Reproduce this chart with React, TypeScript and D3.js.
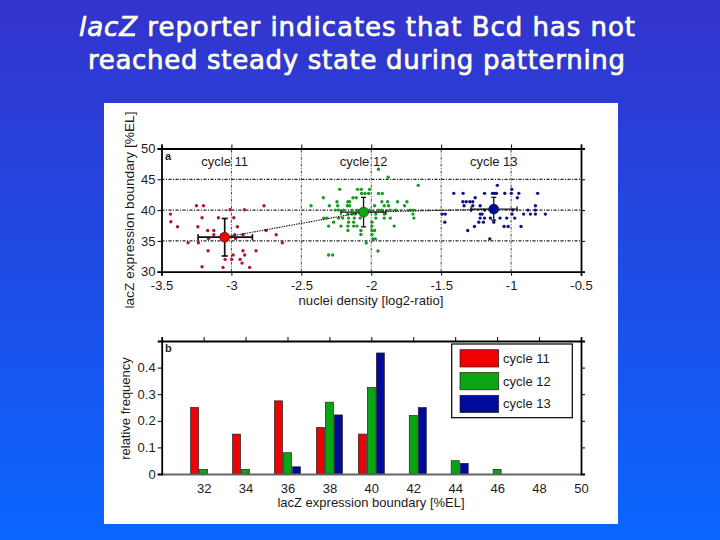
import React, { useEffect, useRef } from 'react';
import * as d3 from 'd3';

const titleLines = ['reporter indicates that Bcd has not', 'reached steady state during patterning'];
const seriesNames = ['cycle 11', 'cycle 12', 'cycle 13'];
const seriesColors = ['#f00000', '#0aa514', '#000a9c'];
const dotColors = ['#b5142e', '#159c22', '#10107f'];

const densityTicks = [-3.5, -3, -2.5, -2, -1.5, -1, -0.5];
const boundaryTicks = [30, 35, 40, 45, 50];
const binTicks = [32, 34, 36, 38, 40, 42, 44, 46, 48, 50];
const freqTicks = [0, 0.1, 0.2, 0.3, 0.4];
const bins = [32, 34, 36, 38, 40, 42, 44, 46];

const freq11 = [0.25, 0.15, 0.275, 0.175, 0.15, 0, 0, 0];
const freq12 = [0.0175, 0.0175, 0.08, 0.27, 0.325, 0.22, 0.05, 0.0175];
const freq13 = [0, 0, 0.027, 0.222, 0.455, 0.25, 0.04, 0];

const points11: [number, number][] = [
  [-3.436, 39.35], [-3.433, 38.1], [-3.386, 37.3], [-3.25, 40.7], [-3.2, 40.7], [-3.21, 38.75], [-3.24, 37.3],
  [-3.17, 36.7], [-3.126, 36.7], [-3.126, 36], [-3.164, 35.4], [-3.31, 34.7], [-3.236, 34.7], [-3.167, 33.4],
  [-3.21, 30.8], [-3.093, 38.75], [-3.01, 40.05], [-2.907, 40.05], [-2.767, 40.7], [-2.983, 38.75], [-2.957, 37.3],
  [-2.752, 36.7], [-2.68, 36], [-2.636, 34.7], [-2.917, 36], [-2.97, 35.4], [-3.07, 36], [-2.824, 33.4],
  [-2.917, 33.4], [-2.905, 32.7], [-2.988, 32.7], [-3.045, 32], [-2.998, 32], [-2.938, 32], [-2.924, 31.4],
  [-3.06, 30.7], [-2.87, 30.7], [-2.976, 36],
];

const points12: [number, number][] = [
  [-1.948, 46.63], [-1.879, 45.33], [-1.664, 44.02], [-2.226, 43.37], [-2.098, 43.37], [-2.071, 43.37], [-2.012, 43.37],
  [-2.069, 42.7], [-2.045, 42.7], [-2.019, 42.7], [-1.948, 42.7], [-1.921, 42.7], [-2.343, 42], [-2.131, 42], [-2.107, 42],
  [-2.167, 41.36], [-2.155, 41.36], [-2.245, 41.36], [-1.924, 41.36], [-1.883, 41.36], [-1.812, 41.36], [-1.745, 41.36],
  [-2.431, 40.7], [-2.3, 40.7], [-2.24, 40.7], [-2.171, 40.7], [-2.155, 40.7], [-1.976, 40.7], [-1.907, 40.7], [-1.876, 40.7], [-1.762, 40.7],
  [-2.257, 40], [-2.233, 40], [-2.198, 40], [-2.138, 40], [-2.102, 40], [-2.012, 40], [-1.948, 40], [-1.924, 40], [-1.864, 40], [-1.824, 40], [-1.721, 40], [-1.698, 40],
  [-2.167, 39.35], [-2.138, 39.35], [-2.114, 39.35], [-1.967, 39.35], [-1.907, 39.35], [-1.702, 39.35],
  [-2.34, 38.7], [-2.317, 38.7], [-2.233, 38.7], [-2.205, 38.7], [-2.162, 38.7], [-2.121, 38.7], [-2.079, 38.7], [-1.967, 38.7], [-1.907, 38.7], [-1.864, 38.7], [-1.695, 38.7],
  [-2.269, 38.04], [-2.162, 38.04], [-2.126, 38.04], [-1.995, 38.04],
  [-2.305, 37.4], [-2.217, 37.4], [-2.167, 37.4], [-2.126, 37.4], [-2.102, 37.4], [-1.995, 37.4], [-1.836, 37.4],
  [-2.167, 36.7], [-2.074, 36.7], [-1.995, 36.7], [-1.976, 36.7], [-2.074, 36.03], [-1.995, 36.03],
  [-1.988, 35.33], [-1.971, 35.33], [-2.036, 34.67], [-1.952, 33.37], [-2.305, 32.7], [-2.276, 32.7],
];

const points13: [number, number][] = [
  [-1.098, 44.02], [-0.995, 43.37],
  [-1.41, 42.72], [-1.343, 42.72], [-1.19, 42.72], [-1.133, 42.72], [-1.119, 42.72], [-1.105, 42.72], [-1.045, 42.72], [-0.998, 42.72], [-0.945, 42.72], [-0.81, 42.72],
  [-1.257, 42], [-0.955, 42], [-1.345, 41.36], [-1.321, 41.36], [-1.295, 41.36], [-1.274, 41.36],
  [-1.336, 40.7], [-1.274, 40.7], [-1.221, 40.7], [-0.826, 40.7],
  [-1.286, 40], [-1.19, 40], [-0.988, 40], [-0.879, 40], [-0.826, 40],
  [-1.493, 39.35], [-1.471, 39.35], [-1.221, 39.35], [-1.207, 39.35], [-0.993, 39.35], [-0.91, 39.35], [-0.862, 39.35], [-0.826, 39.35], [-0.755, 39.35],
  [-1.221, 38.7], [-1.19, 38.7], [-1.148, 38.7], [-1.079, 38.7], [-1.031, 38.7], [-0.974, 38.7],
  [-1.474, 38.04], [-1.231, 38.04], [-1.198, 38.04], [-1.124, 38.04],
  [-1.262, 37.34], [-1.05, 37.34], [-1.021, 37.34], [-0.929, 37.34], [-1.31, 36.68], [-1.152, 35.33],
];

// mean x, mean y, then the error bar ends
const meanX = [-3.048, -2.055, -1.124];
const meanY = [35.6, 39.67, 40.16];
const xLow = [-3.238, -2.217, -1.287];
const xHigh = [-2.85, -1.895, -0.957];
const yLow = [32.55, 37.28, 38.37];
const yHigh = [38.64, 42.07, 42.07];

const FONT = '"Liberation Sans", Arial, sans-serif';
const INK = '#1c1c1c';

const App: React.FC = () => {
  const ref = useRef<SVGSVGElement>(null);

  useEffect(() => {
    const svg = d3.select(ref.current);
    svg.selectAll('*').remove();

    const grad = svg.append('defs').append('linearGradient')
      .attr('id', 'bg').attr('x1', 0).attr('x2', 0).attr('y1', 0).attr('y2', 1);
    grad.append('stop').attr('offset', '0%').attr('stop-color', '#3333cc');
    grad.append('stop').attr('offset', '100%').attr('stop-color', '#0a66ff');

    svg.append('rect').attr('width', 720).attr('height', 540).attr('fill', 'url(#bg)');
    svg.append('rect').attr('x', 104).attr('y', 103).attr('width', 514).attr('height', 421).attr('fill', '#fff');

    // slide title
    const title = svg.append('g')
      .attr('fill', '#ffffe6').attr('stroke', '#ffffe6').attr('stroke-width', 0.7)
      .attr('font-family', '"DejaVu Sans", sans-serif').attr('font-size', 26);
    const t1 = title.append('text').attr('x', 79).attr('y', 36).attr('textLength', 556).attr('lengthAdjust', 'spacing');
    t1.append('tspan').attr('font-style', 'italic').text('lacZ');
    t1.append('tspan').text(' ' + titleLines[0]);
    title.append('text').attr('x', 88).attr('y', 69).attr('textLength', 537).attr('lengthAdjust', 'spacing').text(titleLines[1]);

    // panel a
    const xA = d3.scaleLinear().domain([-3.5, -0.5]).range([161.5, 581]);
    const yA = d3.scaleLinear().domain([30, 50]).range([271.7, 148.5]);
    const a = svg.append('g');

    const dashDot = '3 1.5 1 1.5';
    a.selectAll('.hgrid').data([35, 40, 45]).enter().append('line')
      .attr('x1', xA(-3.5)).attr('x2', xA(-0.5)).attr('y1', d => yA(d)).attr('y2', d => yA(d))
      .attr('stroke', '#222').attr('stroke-width', 1.2).attr('stroke-dasharray', dashDot);
    a.selectAll('.vgrid').data([-3, -2.5, -2, -1.5, -1]).enter().append('line')
      .attr('y1', yA(30)).attr('y2', yA(50)).attr('x1', d => xA(d)).attr('x2', d => xA(d))
      .attr('stroke', '#333').attr('stroke-width', 0.9).attr('stroke-dasharray', dashDot);

    [points11, points12, points13].forEach((pts, i) => {
      a.append('g').selectAll('circle').data(pts).enter().append('circle')
        .attr('cx', d => xA(d[0])).attr('cy', d => yA(d[1])).attr('r', 1.7).attr('fill', dotColors[i]);
    });

    const meanLine = d3.line<number>().x(d => xA(d)).y((_, i) => yA(meanY[i]));
    a.append('path').attr('d', meanLine(meanX)).attr('fill', 'none')
      .attr('stroke', '#111').attr('stroke-width', 1.1).attr('stroke-dasharray', '1.5 1');

    const capW = [3, 2.5, 2.5];
    const barW = [1.7, 1.3, 1.3];
    seriesNames.forEach((_, i) => {
      const g = a.append('g').attr('stroke', '#111').attr('stroke-width', barW[i]);
      g.append('line').attr('x1', xA(xLow[i])).attr('x2', xA(xHigh[i])).attr('y1', yA(meanY[i])).attr('y2', yA(meanY[i]));
      g.append('line').attr('x1', xA(meanX[i])).attr('x2', xA(meanX[i])).attr('y1', yA(yLow[i])).attr('y2', yA(yHigh[i]));
      [xLow[i], xHigh[i]].forEach(v => g.append('line').attr('x1', xA(v)).attr('x2', xA(v))
        .attr('y1', yA(meanY[i]) - capW[i]).attr('y2', yA(meanY[i]) + capW[i]));
      [yLow[i], yHigh[i]].forEach(v => g.append('line').attr('y1', yA(v)).attr('y2', yA(v))
        .attr('x1', xA(meanX[i]) - capW[i]).attr('x2', xA(meanX[i]) + capW[i]));
      a.append('circle').attr('cx', xA(meanX[i])).attr('cy', yA(meanY[i])).attr('r', 5)
        .attr('fill', seriesColors[i]).attr('stroke', '#222').attr('stroke-width', 0.6);
      a.append('text').attr('x', xA(meanX[i])).attr('y', 166).attr('text-anchor', 'middle')
        .attr('font-family', FONT).attr('font-size', 13).attr('fill', INK).text(seriesNames[i]);
    });

    styleAxis(a.append('g').attr('transform', `translate(0,${yA(30)})`)
      .call(d3.axisBottom(xA).tickValues(densityTicks).tickSize(4).tickPadding(5).tickFormat(d => String(d))));
    styleAxis(a.append('g').attr('transform', `translate(${xA(-3.5)},0)`)
      .call(d3.axisLeft(yA).tickValues(boundaryTicks).tickSize(4).tickPadding(2).tickFormat(d => String(d))));
    styleAxis(a.append('g').attr('transform', `translate(0,${yA(50)})`)
      .call(d3.axisTop(xA).tickValues(densityTicks).tickSize(4).tickFormat(() => '')));
    styleAxis(a.append('g').attr('transform', `translate(${xA(-0.5)},0)`)
      .call(d3.axisRight(yA).tickValues(boundaryTicks).tickSize(4).tickFormat(() => '')));

    label(a, 165, 160, 'a', true);
    label(a, 371, 305, 'nuclei density [log2-ratio]', false, 0, 13.1);
    label(a, 134, 210, 'lacZ expression boundary [%EL]', false, -90, 13.7);

    // panel b
    const xB = d3.scaleLinear().domain([30, 50]).range([161.7, 581]);
    const yB = d3.scaleLinear().domain([0, 0.5]).range([474, 341]);
    const dodge = d3.scaleBand<string>().domain(seriesNames).range([-13, 13]).paddingInner(1 / 9);
    const b = svg.append('g');

    [freq11, freq12, freq13].forEach((vals, i) => {
      const rows = bins.map((bin, j) => ({ bin, value: vals[j] })).filter(d => d.value > 0);
      b.append('g').selectAll('rect').data(rows).enter().append('rect')
        .attr('x', d => xB(d.bin) + dodge(seriesNames[i])!)
        .attr('y', d => yB(d.value))
        .attr('width', dodge.bandwidth())
        .attr('height', d => yB(0) - yB(d.value))
        .attr('fill', seriesColors[i])
        .attr('stroke', '#222')
        .attr('stroke-width', 0.7);
    });

    styleAxis(b.append('g').attr('transform', `translate(0,${yB(0)})`)
      .call(d3.axisBottom(xB).tickValues(binTicks).tickSize(0).tickPadding(10).tickFormat(d => String(d))), '#666');
    styleAxis(b.append('g').attr('transform', `translate(${xB(30)},0)`)
      .call(d3.axisLeft(yB).tickValues(freqTicks).tickSize(4).tickPadding(2).tickFormat(d => String(d))));
    styleAxis(b.append('g').attr('transform', `translate(0,${yB(0.5)})`)
      .call(d3.axisTop(xB).tickValues(binTicks).tickSize(4).tickFormat(() => '')));
    styleAxis(b.append('g').attr('transform', `translate(${xB(50)},0)`)
      .call(d3.axisRight(yB).tickValues(freqTicks).tickSize(4).tickFormat(() => '')));

    label(b, 165, 352, 'b', true);
    label(b, 371, 507, 'lacZ expression boundary [%EL]', false, 0, 13);
    label(b, 130, 408.5, 'relative frequency', false, -90, 13);

    // legend
    const legend = b.append('g');
    legend.append('rect').attr('x', 451.7).attr('y', 344).attr('width', 120.6).attr('height', 73.7)
      .attr('fill', '#fff').attr('stroke', '#000').attr('stroke-width', 1.2);
    seriesNames.forEach((name, i) => {
      const y = 349.7 + i * 22.8;
      legend.append('rect').attr('x', 460).attr('y', y).attr('width', 38.7).attr('height', 17.3)
        .attr('fill', seriesColors[i]).attr('stroke', '#222').attr('stroke-width', 0.7);
      legend.append('text').attr('x', 503).attr('y', y + 13).attr('font-family', FONT)
        .attr('font-size', 13).attr('fill', INK).text(name);
    });
  }, []);

  return <svg ref={ref} width={720} height={540} style={{ position: 'absolute', left: 0, top: 0 }} />;
};

function styleAxis(g: any, lineColor = '#000') {
  g.attr('font-family', FONT).attr('font-size', 13);
  g.selectAll('.domain').attr('stroke', lineColor).attr('stroke-width', 1.8);
  g.selectAll('.tick line').attr('stroke', '#000').attr('stroke-width', 1);
  g.selectAll('.tick text').attr('fill', INK);
}

function label(g: any, x: number, y: number, text: string, bold = false, rotate = 0, size = 12.5) {
  g.append('text')
    .attr('transform', `translate(${x},${y}) rotate(${rotate})`)
    .attr('text-anchor', bold ? 'start' : 'middle')
    .attr('font-family', FONT)
    .attr('font-size', bold ? 11 : size)
    .attr('font-weight', bold ? 'bold' : 'normal')
    .attr('fill', INK)
    .text(text);
}

export default App;
